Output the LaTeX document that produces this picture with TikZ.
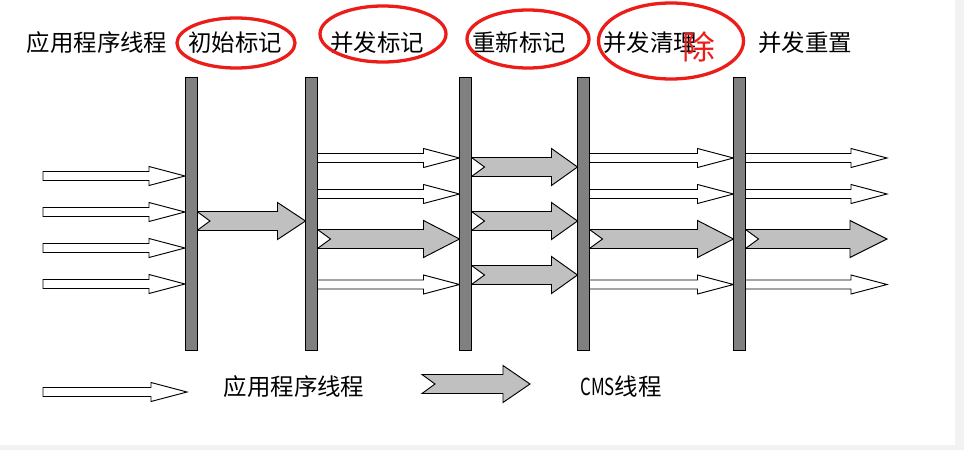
\documentclass[tikz,border=0pt]{standalone}
\usepackage{fontspec}
\setmainfont{Noto Sans CJK SC}
\usetikzlibrary{shapes.geometric}
\definecolor{barfill}{RGB}{128,128,128}
\definecolor{cmsfill}{RGB}{192,192,192}
\definecolor{markred}{RGB}{236,28,24}
\definecolor{edgegray}{RGB}{242,242,242}

% white application arrow: tail x #1, tip x #2, height #3
\newcommand{\appthread}[3]{%
  \draw[appline] (#1,#3-4.5) -- (#2-36,#3-4.5) -- (#2-36,#3-9.5) -- (#2,#3)
    -- (#2-36,#3+9.5) -- (#2-36,#3+4.5) -- (#1,#3+4.5) -- cycle;}
% grey CMS arrow with notched tail, #4 = head length
\newcommand{\cmsthread}[4]{%
  \draw[cmsline] (#1,#3-9.5) -- (#2-#4,#3-9.5) -- (#2-#4,#3-18.5) -- (#2,#3)
    -- (#2-#4,#3+18.5) -- (#2-#4,#3+9.5) -- (#1,#3+9.5) -- (#1+13,#3) -- cycle;}

\begin{document}
\begin{tikzpicture}[x=0.03cm, y=-0.03cm,
  appline/.style={draw=black, fill=white, line width=0.8pt},
  cmsline/.style={draw=black, fill=cmsfill, line width=0.8pt},
  bar/.style={
    rectangle, draw=black, fill=barfill, line width=0.6pt,
    minimum width=0.36cm, minimum height=8.19cm, inner sep=0pt,
  },
  phase/.style={font=\fontsize{20}{24}\selectfont, inner sep=0pt},
  ring/.style={ellipse, draw=markred, line width=2.8pt, inner sep=0pt},
]

% --- Canvas ---
\fill[edgegray] (0,0) rectangle (964,450);
\fill[white] (0,0) rectangle (955,445);

% --- Phase titles ---
\node[phase] (app) at (97,43) {应用程序线程};
\node[phase] (init) at (235,43) {初始标记};
\node[phase] (conc) at (377,43) {并发标记};
\node[phase] (remark) at (519,43) {重新标记};
\node[phase] (sweep) at (650,43) {并发清理};
\node[phase] (reset) at (805,43) {并发重置};
\node[text=markred, font=\fontsize{28}{30}\selectfont, inner sep=0pt] (fix) at (699,47) {除};

% --- Red marks ---
\node[ring, minimum width=3.54cm, minimum height=1.5cm] (r1) at (236,43) {};
\node[ring, minimum width=3.78cm, minimum height=1.68cm] (r2) at (383,34) {};
\node[ring, minimum width=3.66cm, minimum height=1.74cm] (r3) at (528,39) {};
\node[ring, minimum width=4.35cm, minimum height=2.28cm] (r4) at (671,41) {};

% --- Arrows ---
\appthread{43}{185}{176}
\appthread{43}{185}{212}
\appthread{43}{185}{248}
\appthread{43}{185}{284}

\cmsthread{197}{305.5}{221}{28}

\appthread{317.5}{459.5}{158}
\appthread{317.5}{459.5}{194}
\cmsthread{317.5}{459.5}{239}{36}
\appthread{317.5}{459.5}{284.5}

\cmsthread{471.5}{577.5}{167}{26}
\cmsthread{471.5}{577.5}{221}{26}
\cmsthread{471.5}{577.5}{275}{26}

\appthread{589.5}{733.5}{158}
\appthread{589.5}{733.5}{194}
\cmsthread{589.5}{733.5}{239}{36}
\appthread{589.5}{733.5}{284.5}

\appthread{745.5}{887}{158}
\appthread{745.5}{887}{194}
\cmsthread{745.5}{887}{239}{37}
\appthread{745.5}{887}{284.5}

% --- Pause bars ---
\node[bar] (b1) at (191,213.5) {};
\node[bar] (b2) at (311.5,213.5) {};
\node[bar] (b3) at (465.5,213.5) {};
\node[bar] (b4) at (583.5,213.5) {};
\node[bar] (b5) at (739.5,213.5) {};

% --- Legend ---
\appthread{43}{187}{392}
\node[phase] (appkey) at (294,387) {应用程序线程};
\cmsthread{422}{530}{384}{27}
\node[phase] (cmskey) at (621,387) {\scalebox{0.72}[1]{CMS}线程};

\end{tikzpicture}
\end{document}
